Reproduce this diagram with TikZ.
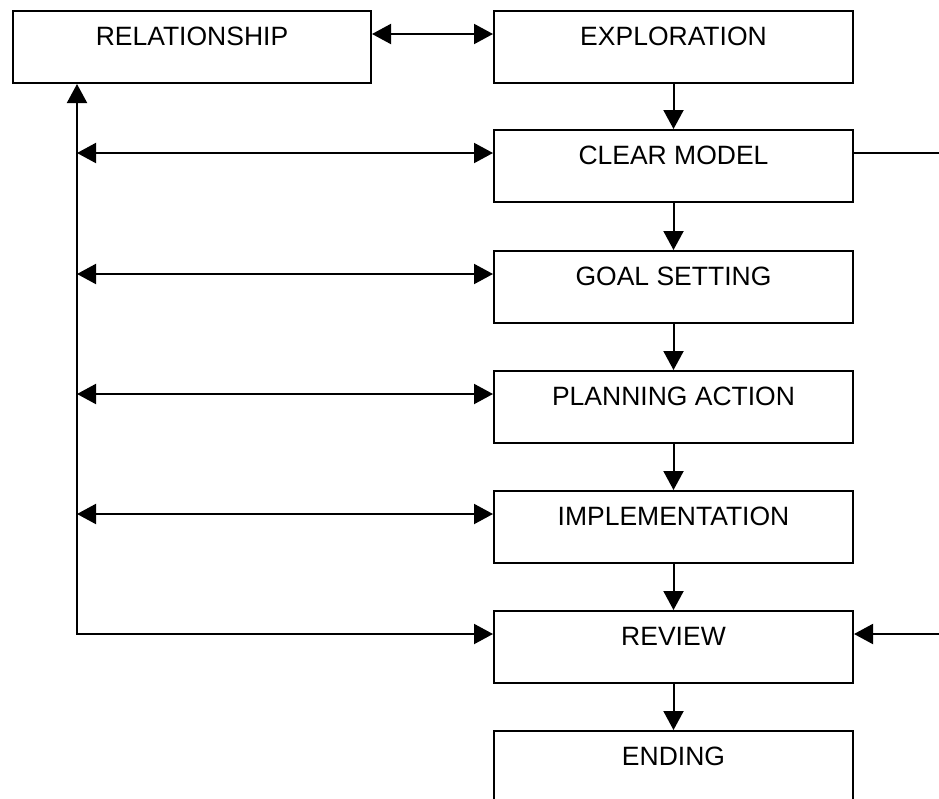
\documentclass[tikz,border=0pt]{standalone}
\usepackage{fontspec}
\setmainfont{Liberation Sans}
\usetikzlibrary{arrows.meta}

\begin{document}
\begin{tikzpicture}[x=1pt, y=-1pt,
  stagebox/.style={draw, line width=2pt, inner sep=0pt, anchor=north west,
    minimum width=359pt, minimum height=72pt,
    text height=34pt, text depth=38pt, align=center,
    font=\fontsize{26.5}{31}\selectfont},
  link/.style={line width=2pt},
  arw/.tip={Triangle[length=19pt, width=20pt]}
]
\clip (0,0) rectangle (939,798);

% left box
\node[stagebox, minimum width=358pt] (rel) at (12,10) {RELATIONSHIP};

% main column of stages
\node[stagebox] (expl)   at (493,10)  {EXPLORATION};
\node[stagebox] (clear)  at (493,129) {CLEAR MODEL};
\node[stagebox] (goal)   at (493,250) {GOAL SETTING};
\node[stagebox] (plan)   at (493,370) {PLANNING ACTION};
\node[stagebox] (impl)   at (493,490) {IMPLEMENTATION};
\node[stagebox] (review) at (493,610) {REVIEW};
\node[stagebox] (ending) at (493,730) {ENDING};

% spine points on the left feedback line
\coordinate (ry) at (0,34);
\coordinate (s2) at (77,153);
\coordinate (s3) at (77,274);
\coordinate (s4) at (77,394);
\coordinate (s5) at (77,514);
\coordinate (s6) at (77,634);
% free ends at the right edge
\coordinate (e2) at (939,153);
\coordinate (e6) at (939,634);

% relationship <-> exploration
\draw[link, arw-arw] (rel.east |- ry) -- (expl.west |- ry);

% downward flow
\draw[link, -arw] (expl.south)   -- (clear.north);
\draw[link, -arw] (clear.south)  -- (goal.north);
\draw[link, -arw] (goal.south)   -- (plan.north);
\draw[link, -arw] (plan.south)   -- (impl.north);
\draw[link, -arw] (impl.south)   -- (review.north);
\draw[link, -arw] (review.south) -- (ending.north);

% feedback spine from review up to relationship
\draw[link, arw-arw] (s6 -| review.west) -- (s6) -- (s6 |- rel.south);

% spine <-> stages
\draw[link, arw-arw] (s2) -- (s2 -| clear.west);
\draw[link, arw-arw] (s3) -- (s3 -| goal.west);
\draw[link, arw-arw] (s4) -- (s4 -| plan.west);
\draw[link, arw-arw] (s5) -- (s5 -| impl.west);

% right-hand connections
\draw[link] (s2 -| clear.east) -- (e2);
\draw[link, -arw] (e6) -- (s6 -| review.east);
\end{tikzpicture}
\end{document}
